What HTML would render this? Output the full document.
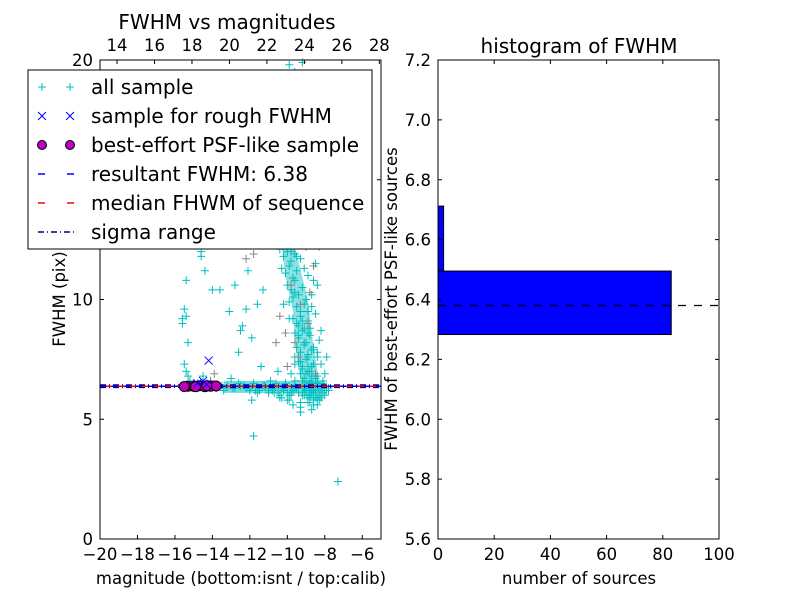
<!DOCTYPE html>
<html><head><meta charset="utf-8"><style>
body{margin:0;background:#fff;}
svg text{font-family:"DejaVu Sans","Liberation Sans",sans-serif;fill:#000;}
</style></head><body>
<svg id="fig" width="800" height="600" xmlns="http://www.w3.org/2000/svg">
<rect width="800" height="600" fill="#fff"/>
<g id="left"></g>
<g id="right"></g>
</svg>
<script>
// ---- scatter data ----
const allX = [-9.9,-9.6,-9.2,-8.9,-8.7,-9.4,-9.1,-8.8,-8.6,-9.7,-9.3,-9.0,-8.5,-8.9,-9.2,-8.7,-9.5,-9.0,-8.8,-8.6,
-9.8,-9.3,-9.1,-8.9,-8.4,-9.6,-9.0,-8.7,-8.5,-9.2,-8.8,-9.4,-9.1,-8.6,-8.9,-9.3,-8.7,-9.0,-8.5,-8.8,
-9.5,-9.2,-8.9,-8.6,-9.7,-9.1,-8.8,-8.4,-9.0,-8.7,-10.2,-9.9,-9.4,-8.3,-8.9,-9.6,-8.6,-9.2,-8.8,-8.5,
-10.5,-10.1,-9.8,-8.2,-8.0,-9.3,-8.7,-9.0,-8.4,-8.9,-10.8,-10.4,-9.7,-8.1,-8.6,-9.5,-9.1,-8.3,-8.8,-9.4,
-11.0,-10.6,-10.0,-9.6,-8.5,-8.2,-7.9,-9.2,-8.7,-8.9,-11.5,-11.2,-10.3,-9.9,-8.0,-8.4,-9.0,-8.6,-9.3,-8.8,
-12.0,-11.6,-10.9,-10.2,-9.7,-8.3,-8.1,-7.8,-9.1,-8.7,
-15.5,-15.4,-15.6,-15.3,-15.5,-15.4,-15.3,-15.2,-15.0,-14.8,-14.6,-14.3,-14.5,-14.1,-14.4,-14.6,-14.0,-13.5,-13.0,-12.8,
-12.5,-12.2,-12.0,-11.8,-11.5,-11.2,-11.0,-10.8,-10.5,-10.2,-13.4,-13.2,-12.9,-12.6,-12.3,-12.0,-11.7,-11.3,-11.0,-10.7,
-12.6,-12.2,-11.9,-11.6,-11.3,-12.8,-13.6,-13.1,-12.4,-12.1,-11.9,-11.8,-7.3,-12.5,-14.6,-15.4,-15.6,-13.8,-13.4,-11.4,
-10.4,-10.2,-10.0,-9.8,-9.6,-10.3,-10.1,-9.9,-9.7,-9.5,-10.0,-9.8,-9.6,-9.4,-9.2,-9.9,-9.7,-9.5,-9.3,-9.1,
-9.7,-9.5,-9.3,-9.1,-8.9,-9.6,-9.4,-9.2,-9.0,-8.8,-9.5,-9.3,-9.1,-8.9,-8.7,-9.4,-9.2,-9.0,-8.8,-8.6,
-9.3,-9.1,-8.9,-8.7,-8.5,-9.6,-9.2,-8.8,-8.4,-8.2,-10.0,-9.6,-9.2,-8.8,-8.4,-8.1,-10.4,-9.9,-9.4,-8.9,
-8.5,-8.0,-10.8,-10.3,-9.8,-9.3,-8.8,-8.3,-7.9,-10.6,-10.1,-9.6,-9.1,-8.6,-8.2,-7.8,-10.9,-9.8,-8.9,-8.4];
const allY = [19.8,19.5,19.9,18.7,18.2,17.6,17.2,16.8,16.4,16.1,15.8,15.3,15.0,14.6,14.2,13.8,13.5,13.1,12.7,12.4,
12.0,11.7,11.3,11.0,10.6,10.3,10.0,9.7,9.4,9.1,8.8,8.5,8.2,8.0,7.7,7.4,7.2,6.9,6.7,6.5,
6.3,6.1,5.9,5.8,6.2,6.0,5.7,5.6,6.4,6.8,9.8,9.2,8.9,8.3,8.6,7.6,7.9,7.1,6.6,6.2,
7.0,6.4,6.0,7.3,6.9,5.5,5.4,6.2,7.8,9.5,6.3,5.9,5.6,6.6,10.8,11.8,12.6,12.2,13.3,15.6,
6.1,6.5,5.8,7.3,11.5,8.7,7.6,14.9,10.2,9.0,6.2,6.4,6.3,6.0,6.2,6.8,6.4,5.6,5.3,6.0,
6.3,6.1,6.4,6.2,6.3,6.0,6.5,6.2,6.3,6.1,
9.6,9.3,9.0,8.2,7.3,7.0,6.8,6.6,6.5,6.5,6.4,6.5,6.8,6.6,11.2,11.8,10.4,6.4,6.7,6.3,
6.4,6.3,6.2,6.5,6.3,6.4,6.2,6.3,6.1,6.2,6.3,6.4,6.3,6.5,6.4,6.3,6.2,6.4,6.3,6.1,
7.8,9.6,8.4,9.8,10.4,10.6,10.4,9.5,8.9,11.2,5.8,4.3,2.4,8.7,12.0,10.8,9.2,6.3,6.2,7.2,
12.1,11.8,12.0,11.6,11.9,11.3,11.1,11.4,10.9,11.2,10.6,10.4,10.8,10.2,10.5,9.9,10.1,9.7,9.5,9.8,
9.2,9.0,9.3,8.8,9.1,8.6,8.4,8.7,8.2,8.5,8.0,7.8,8.1,7.6,7.9,7.4,7.2,7.5,7.0,7.3,
6.9,6.7,7.0,6.5,6.8,6.4,6.6,6.2,6.5,6.3,6.1,6.3,6.0,6.2,5.9,6.1,6.0,5.8,6.1,5.7,
5.9,6.0,6.2,5.9,6.1,5.7,6.0,5.8,6.2,6.4,6.5,6.6,6.3,6.1,5.9,6.3,6.6,6.9,7.2,7.6];
const grayX = [-9.2,-8.8,-9.5,-9.0,-8.6,-9.8,-9.3,-8.9,-10.1,-9.6,-11.8,-12.2,-9.1,-8.7,-10.4,-14.1,-13.9,-9.4,-10.0,-8.5,-9.7,-8.8,-10.6,-9.2];
const grayY = [15.5,14.2,13.0,12.2,11.4,10.6,9.8,9.0,8.6,8.2,11.9,11.7,16.8,17.9,9.3,6.6,6.9,7.6,7.2,6.9,18.9,10.3,8.2,13.7];
const plumeX = [-10.3,-9.6,-8.9,-8.6,-8.3,-8.1,-9.0,-9.5,-9.7,-10.1];
const plumeY = [12.2,12.2,10.0,8.0,6.6,5.8,5.8,7.5,9.5,11.0];
const roughX = [-14.2,-14.5,-14.8,-14.3];
const roughY = [7.45,6.6,6.5,6.45];
const bestX = [-15.3,-15.0,-14.7,-14.4,-14.1,-13.8,-15.5,-14.9,-14.3];
const bestY = [6.38,6.38,6.4,6.36,6.38,6.39,6.37,6.36,6.4];
const fwhmValue = 6.38, medianValue = 6.38, sigmaLo = 6.33, sigmaHi = 6.43;
const xTicks = [-20,-18,-16,-14,-12,-10,-8,-6];
const yTicks = [0,5,10,15,20];
const topTicks = [14,16,18,20,22,24,26,28];
// ---- histogram data ----
const binEdges = [6.283,6.495,6.712];
const binCounts = [83,2];
const histXTicks = [0,20,40,60,80,100];
const histYTicks = [5.6,5.8,6.0,6.2,6.4,6.6,6.8,7.0,7.2];

const NS="http://www.w3.org/2000/svg";
function mk(parent,tag,attrs,text){const e=document.createElementNS(NS,tag);for(const k in attrs)e.setAttribute(k,attrs[k]);if(text!==undefined)e.textContent=text;parent.appendChild(e);return e;}
function fmtNum(v){return v<0?'\u2212'+Math.abs(v):String(v);}
const TF=16.5, TT=20;

const L=document.getElementById('left');
const LX0=100,LX1=381,LY0=60,LY1=539;
const sx=v=>LX0+(v+20)/15*(LX1-LX0);
const sy=v=>LY1-v/20*(LY1-LY0);
const tx=v=>LX0+(v-13.09)/15*(LX1-LX0);
function plus(g,x,y,col,name){const p=mk(g,'path',{d:`M${x-4},${y}h8M${x},${y-4}v8`,stroke:col,'stroke-width':1});

}
const plume=mk(L,'polygon',{points:plumeX.map((x,i)=>sx(x)+','+sy(plumeY[i])).join(' '),fill:'#00bfbf',opacity:0.45});


const gAll=mk(L,'g',{});


for(let i=0;i<allX.length;i++)plus(gAll,sx(allX[i]),sy(allY[i]),'#00bfbf','all-sample-point');
const gGray=mk(L,'g',{});


for(let i=0;i<grayX.length;i++)plus(gGray,sx(grayX[i]),sy(grayY[i]),'#888','gray-point');
const band=mk(L,'rect',{x:sx(-13.4),y:sy(6.6),width:sx(-8)-sx(-13.4),height:sy(6.1)-sy(6.6),fill:'#00bfbf',opacity:0.55});


for(const v of [sigmaLo,sigmaHi]){const l=mk(L,'line',{x1:LX0,x2:LX1,y1:sy(v),y2:sy(v),stroke:'#00008b','stroke-width':1.5,'stroke-dasharray':'6,3,1,3'});

}
const fl=mk(L,'line',{x1:LX0,x2:LX1,y1:sy(fwhmValue),y2:sy(fwhmValue),stroke:'#0000ff','stroke-width':1.5,'stroke-dasharray':'6,6'});


const ml=mk(L,'line',{x1:LX0+6,x2:LX1,y1:sy(medianValue),y2:sy(medianValue),stroke:'#ff0000','stroke-width':1.5,'stroke-dasharray':'6,6'});


for(let i=0;i<bestX.length;i++){const c=mk(L,'circle',{cx:sx(bestX[i]),cy:sy(bestY[i]),r:5,fill:'#bf00bf',stroke:'#000','stroke-width':1});

}
for(let i=0;i<roughX.length;i++){const x=sx(roughX[i]),y=sy(roughY[i]);const p=mk(L,'path',{d:`M${x-4},${y-4}l8,8M${x-4},${y+4}l8,-8`,stroke:'#0000ff','stroke-width':1});

}
const lf=mk(L,'rect',{x:LX0,y:LY0,width:LX1-LX0,height:LY1-LY0,fill:'none',stroke:'#000','stroke-width':1});


for(const t of xTicks){const x=sx(t);mk(L,'path',{d:`M${x},${LY1}v-4`,stroke:'#000'});
const tl=mk(L,'text',{x:x,y:LY1+21,'text-anchor':'middle','font-size':TF},fmtNum(t));

}
for(const t of topTicks){const x=tx(t);mk(L,'path',{d:`M${x},${LY0}v4`,stroke:'#000'});
const tl=mk(L,'text',{x:x,y:LY0-9,'text-anchor':'middle','font-size':TF},String(t));

}
for(const t of yTicks){const y=sy(t);mk(L,'path',{d:`M${LX0},${y}h4M${LX1},${y}h-4`,stroke:'#000'});
const tl=mk(L,'text',{x:LX0-7,y:y+6,'text-anchor':'end','font-size':TF},String(t));

}
const lt=mk(L,'text',{x:227,y:29,'text-anchor':'middle','font-size':TT},'FWHM vs magnitudes');


const lxl=mk(L,'text',{x:241,y:584,'text-anchor':'middle','font-size':TF},'magnitude (bottom:isnt / top:calib)');


const lyl=mk(L,'text',{x:0,y:0,'text-anchor':'middle','font-size':TF,transform:'translate(65,299) rotate(-90)'},'FWHM (pix)');


const lg=mk(L,'g',{});


mk(lg,'rect',{x:28,y:70,width:344,height:179,fill:'#fff',stroke:'#000','stroke-width':1});
const entries=[['all sample','plus'],['sample for rough FWHM','x'],['best-effort PSF-like sample','circ'],['resultant FWHM: 6.38','blue'],['median FHWM of sequence','red'],['sigma range','dot']];
entries.forEach((e,i)=>{const y=87+i*29;
for(const x of [42,70]){
if(e[1]=='plus')mk(lg,'path',{d:`M${x-4},${y}h8M${x},${y-4}v8`,stroke:'#00bfbf'});
if(e[1]=='x')mk(lg,'path',{d:`M${x-4},${y-4}l8,8M${x-4},${y+4}l8,-8`,stroke:'#0000ff'});
if(e[1]=='circ')mk(lg,'circle',{cx:x,cy:y,r:4.5,fill:'#bf00bf',stroke:'#000'});}
if(e[1]=='blue')mk(lg,'line',{x1:38,x2:74,y1:y,y2:y,stroke:'#0000ff','stroke-width':1.5,'stroke-dasharray':'7,22'});
if(e[1]=='red')mk(lg,'line',{x1:38,x2:74,y1:y,y2:y,stroke:'#ff0000','stroke-width':1.5,'stroke-dasharray':'7,22'});
if(e[1]=='dot')mk(lg,'line',{x1:38,x2:74,y1:y,y2:y,stroke:'#00008b','stroke-width':1.5,'stroke-dasharray':'6,3,1,3'});
const t=mk(lg,'text',{x:91,y:y+7,'font-size':TT},e[0]);

});

// ---- histogram ----
const R=document.getElementById('right');
const RX0=438,RX1=719,RY0=60,RY1=539;
const hx=v=>RX0+v/100*(RX1-RX0);
const hy=v=>RY1-(v-5.6)/1.6*(RY1-RY0);
for(let i=0;i<binCounts.length;i++){const b=mk(R,'rect',{x:hx(0),y:hy(binEdges[i+1]),width:hx(binCounts[i])-hx(0),height:hy(binEdges[i])-hy(binEdges[i+1]),fill:'#0000ff',stroke:'#000','stroke-width':1});

}
const dl=mk(R,'line',{x1:RX0,x2:RX1,y1:hy(fwhmValue),y2:hy(fwhmValue),stroke:'#000','stroke-width':1.2,'stroke-dasharray':'8,8'});


const rf=mk(R,'rect',{x:RX0,y:RY0,width:RX1-RX0,height:RY1-RY0,fill:'none',stroke:'#000'});


for(const t of histXTicks){const x=hx(t);mk(R,'path',{d:`M${x},${RY1}v-4M${x},${RY0}v4`,stroke:'#000'});
const tl=mk(R,'text',{x:x,y:RY1+21,'text-anchor':'middle','font-size':TF},String(t));

}
for(const t of histYTicks){const y=hy(t);mk(R,'path',{d:`M${RX0},${y}h4M${RX1},${y}h-4`,stroke:'#000'});
const tl=mk(R,'text',{x:RX0-7,y:y+6,'text-anchor':'end','font-size':TF},t.toFixed(1));

}
const rt=mk(R,'text',{x:579,y:53,'text-anchor':'middle','font-size':TT},'histogram of FWHM');


const rxl=mk(R,'text',{x:579,y:584,'text-anchor':'middle','font-size':TF},'number of sources');


const ryl=mk(R,'text',{x:0,y:0,'text-anchor':'middle','font-size':TF,transform:'translate(397,299) rotate(-90)'},'FWHM of best-effort PSF-like sources');


</script>
</body></html>
